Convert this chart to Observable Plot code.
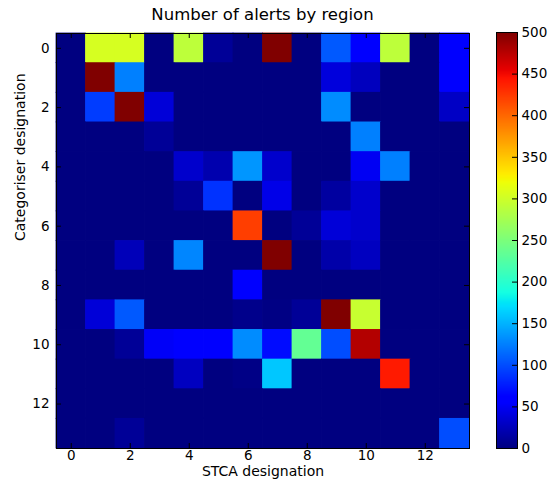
<!DOCTYPE html>
<html><head><meta charset="utf-8">
<script src="https://cdn.jsdelivr.net/npm/d3@7"></script>
<script src="https://cdn.jsdelivr.net/npm/@observablehq/plot@0.6"></script>
<style>
body{margin:0;background:#fff;}
#wrap{position:relative;width:554px;height:484px;font-family:"DejaVu Sans",sans-serif;overflow:hidden;}
#title{position:absolute;left:56px;width:413px;top:0;height:26px;text-align:center;font-size:16.5px;line-height:30px;color:#000;}
#main{position:absolute;left:0;top:26px;}
#cbar{position:absolute;left:480px;top:26px;}
svg{overflow:visible;}
</style></head><body>
<div id="wrap"><div id="title">Number of alerts by region</div><div id="main"></div><div id="cbar"></div></div>
<script>
// categories (region indices) and tick labels
const regions = d3.range(14);
const tickVals = [0, 2, 4, 6, 8, 10, 12];
const cbarTicks = [0, 50, 100, 150, 200, 250, 300, 350, 400, 450, 500];

// alert counts, one array per categoriser row (columns = STCA designation)
const r0  = [0, 305, 305, 0, 290, 10, 0, 500, 0, 106, 60, 290, 0, 62];
const r1  = [0, 500, 125, 0, 0, 0, 0, 0, 0, 40, 27, 0, 0, 62];
const r2  = [0, 92, 500, 38, 0, 0, 0, 0, 0, 131, 0, 0, 0, 30];
const r3  = [0, 0, 0, 10, 0, 0, 0, 0, 0, 0, 125, 0, 0, 0];
const r4  = [0, 0, 0, 0, 33, 20, 136, 33, 0, 0, 50, 125, 0, 0];
const r5  = [0, 0, 0, 0, 10, 87, 0, 45, 0, 14, 33, 0, 0, 0];
const r6  = [0, 0, 0, 0, 0, 0, 422, 0, 10, 38, 33, 0, 0, 0];
const r7  = [0, 0, 25, 0, 128, 0, 0, 500, 0, 18, 28, 0, 0, 0];
const r8  = [0, 0, 0, 0, 0, 0, 58, 0, 0, 0, 0, 0, 0, 0];
const r9  = [0, 38, 106, 0, 0, 0, 5, 2, 10, 500, 296, 0, 0, 0];
const r10 = [0, 0, 10, 52, 62, 58, 131, 68, 235, 100, 478, 0, 0, 0];
const r11 = [0, 0, 0, 0, 28, 0, 3, 160, 0, 0, 0, 441, 0, 0];
const r12 = [0, 0, 0, 0, 0, 0, 0, 0, 0, 0, 0, 0, 0, 0];
const r13 = [0, 0, 10, 0, 0, 0, 0, 0, 0, 0, 0, 0, 0, 100];
const rows = [r0, r1, r2, r3, r4, r5, r6, r7, r8, r9, r10, r11, r12, r13];

const data = rows.flatMap((r, i) => r.map((v, j) => ({row: i, col: j, value: v})));

// matplotlib "jet" colormap
const seg = {
  r: [[0, 0], [0.35, 0], [0.66, 1], [0.89, 1], [1, 0.5]],
  g: [[0, 0], [0.125, 0], [0.375, 1], [0.64, 1], [0.91, 0], [1, 0]],
  b: [[0, 0.5], [0.11, 1], [0.34, 1], [0.65, 0], [1, 0]]
};
function segVal(s, t) {
  for (let i = 1; i < s.length; i++) {
    if (t <= s[i][0]) {
      const [t0, v0] = s[i - 1], [t1, v1] = s[i];
      return v0 + (v1 - v0) * (t - t0) / (t1 - t0);
    }
  }
  return s[s.length - 1][1];
}
function jet(t) {
  t = Math.max(0, Math.min(1, t));
  const c = k => Math.round(255 * segVal(seg[k], t));
  return `rgb(${c("r")},${c("g")},${c("b")})`;
}
const colorOpts = {type: "linear", domain: [0, 500], interpolate: t => jet(t)};

const W = 554, H = 458, mL = 56, mR = 85, mT = 7, mB = 36;
const fw = W - mL - mR, fh = H - mT - mB;

const main = Plot.plot({
  width: W, height: H, marginLeft: mL, marginRight: mR, marginTop: mT, marginBottom: mB,
  style: {fontFamily: "DejaVu Sans", fontSize: "13.5px", color: "#000", background: "#fff"},
  x: {type: "band", domain: regions, padding: 0, round: false, label: null},
  y: {type: "band", domain: regions, padding: 0, round: false, label: null},
  color: colorOpts,
  marks: [
    Plot.cell(data, {x: "col", y: "row", fill: "value", inset: -0.4}),
    Plot.axisX({anchor: "bottom", ticks: tickVals, tickSize: 0, tickPadding: 2, label: null, fontSize: 13.5}),
    Plot.axisY({anchor: "left", ticks: tickVals, tickSize: 0, tickPadding: 7, label: null, fontSize: 13.5}),
    Plot.tickX(tickVals, {x: d => d, insetBottom: fh - 5, stroke: "#000"}),
    Plot.tickX(tickVals, {x: d => d, insetTop: fh - 5, stroke: "#000"}),
    Plot.tickY(tickVals, {y: d => d, insetRight: fw - 5, stroke: "#000"}),
    Plot.tickY(tickVals, {y: d => d, insetLeft: fw - 5, stroke: "#000"}),
    Plot.frame({stroke: "#000", strokeWidth: 1}),
    Plot.text(["STCA designation"], {frameAnchor: "bottom", dy: 27, text: d => d, fontSize: 14, fill: "#000"}),
    Plot.text(["Categoriser designation"], {frameAnchor: "left", dx: -36, rotate: -90, text: d => d, fontSize: 14, fill: "#000"})
  ]
});
document.getElementById("main").appendChild(main);

// colorbar
const cbar = Plot.plot({
  width: 74, height: H, marginLeft: 16, marginRight: 37, marginTop: 6, marginBottom: 36,
  style: {fontFamily: "DejaVu Sans", fontSize: "13.5px", color: "#000", background: "transparent"},
  x: {domain: [0, 1], axis: null},
  y: {domain: [0, 500], label: null},
  color: colorOpts,
  marks: [
    Plot.raster({fill: (x, y) => y, x1: 0, x2: 1, y1: 0, y2: 500, width: 1, height: 400, imageRendering: "auto"}),
    Plot.axisY({anchor: "right", ticks: cbarTicks, tickSize: 0, tickPadding: 4, label: null, fontSize: 13.5}),
    Plot.tickY(cbarTicks, {y: d => d, insetLeft: 21 - 5, stroke: "#000"}),
    Plot.frame({stroke: "#000", strokeWidth: 1})
  ]
});
document.getElementById("cbar").appendChild(cbar);
</script>
</body></html>
